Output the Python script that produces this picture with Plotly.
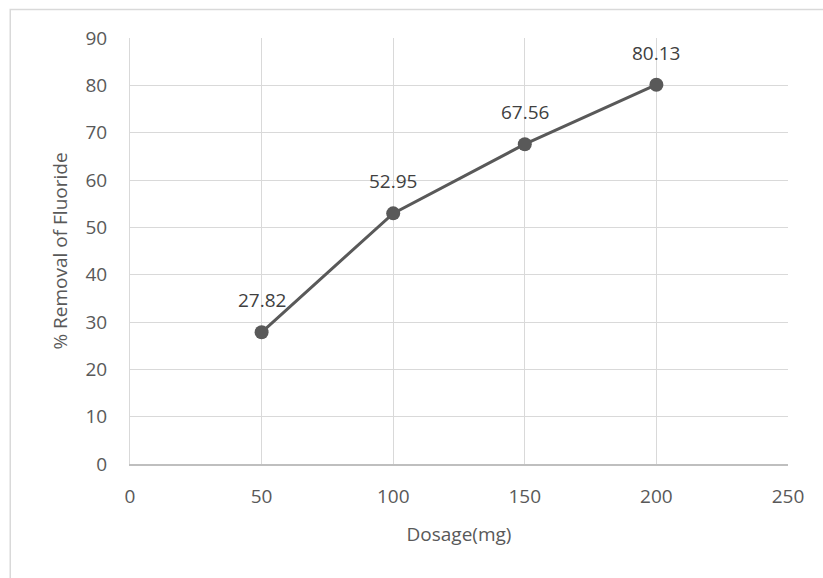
import plotly.graph_objects as go

dosage = [50, 100, 150, 200]
removal = [27.82, 52.95, 67.56, 80.13]
labels = ["27.82", "52.95", "67.56", "80.13"]

fig = go.Figure()
fig.add_trace(go.Scatter(
    x=dosage, y=removal, mode="lines+markers",
    line=dict(color="#595959", width=3),
    marker=dict(color="#595959", size=14),
    hoverinfo="skip", showlegend=False,
))
for xv, yv, t in zip(dosage, removal, labels):
    fig.add_annotation(x=xv, y=yv, text=t, showarrow=False, yshift=32,
                       font=dict(family="Open Sans", size=19, color="#404040"))

fig.add_shape(type="rect", xref="paper", yref="paper",
              x0=-0.182, x1=1.2, y0=-0.5, y1=1.067,
              line=dict(color="#d9d9d9", width=1.5), fillcolor="rgba(0,0,0,0)", layer="below")

fig.update_layout(
    width=823, height=578,
    margin=dict(l=130, r=35, t=38, b=114),
    paper_bgcolor="white", plot_bgcolor="white",
    font=dict(family="Open Sans", size=19, color="#595959"),
    xaxis=dict(range=[0, 250], dtick=50, tick0=0, showgrid=True, gridcolor="#d9d9d9", gridwidth=1,
               zeroline=False, showline=True, linecolor="#bfbfbf", linewidth=1.5, mirror=False,
               ticks="", ticklabelstandoff=14,
               title=dict(text="Dosage(mg)", font=dict(size=19, color="#595959"), standoff=20)),
    yaxis=dict(range=[0, 90], dtick=10, tick0=0, showgrid=True, gridcolor="#d9d9d9", gridwidth=1,
               zeroline=False, showline=True, linecolor="#d9d9d9", linewidth=1,
               ticks="", ticklabelstandoff=18,
               title=dict(text="% Removal of Fluoride", font=dict(size=19, color="#595959"), standoff=12)),
)
fig.write_html("out.html")
